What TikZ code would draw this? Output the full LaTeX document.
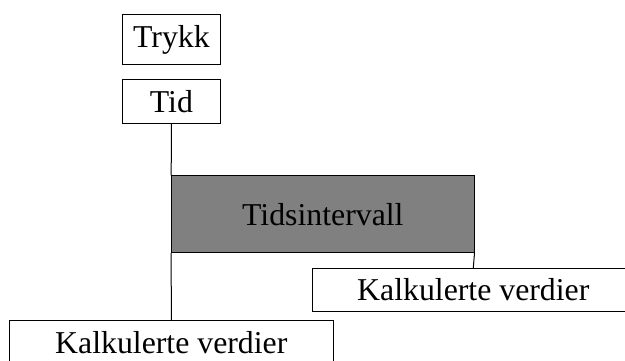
\documentclass[tikz,border=0pt]{standalone}
\usepackage{fontspec}
\setmainfont{Liberation Serif}
\begin{document}
\begin{tikzpicture}[x=1pt,y=-1pt,
  box/.style={draw=black,line width=1pt,rectangle,inner sep=0pt,align=center,
    font=\fontsize{31.8}{38}\selectfont},
  link/.style={draw=black,line width=1pt}]
\useasboundingbox (0,0) rectangle (625,361);
\clip (0,0) rectangle (625,361);
\node[box,minimum width=97.3pt,minimum height=50pt] (trykk) at (171.4,40) {Trykk};
\node[box,minimum width=97.3pt,minimum height=44.3pt] (tid) at (171.4,101.2) {Tid};
\node[box,fill=black!50,minimum width=302.3pt,minimum height=76.7pt] (gray) at (322.85,214.35) {Tidsintervall};
\node[box,fill=white,minimum width=322pt,minimum height=43.4pt] (kv2) at (473.3,290) {Kalkulerte verdier};
\node[box,fill=white,minimum width=324pt,minimum height=43.4pt] (kv1) at (171.3,342.4) {Kalkulerte verdier};
\draw[link] (tid.south) -- (gray.north west);
\draw[link] (gray.south west) -- (kv1.north);
\draw[link] (gray.south east) -- (kv2.north);
\end{tikzpicture}
\end{document}
